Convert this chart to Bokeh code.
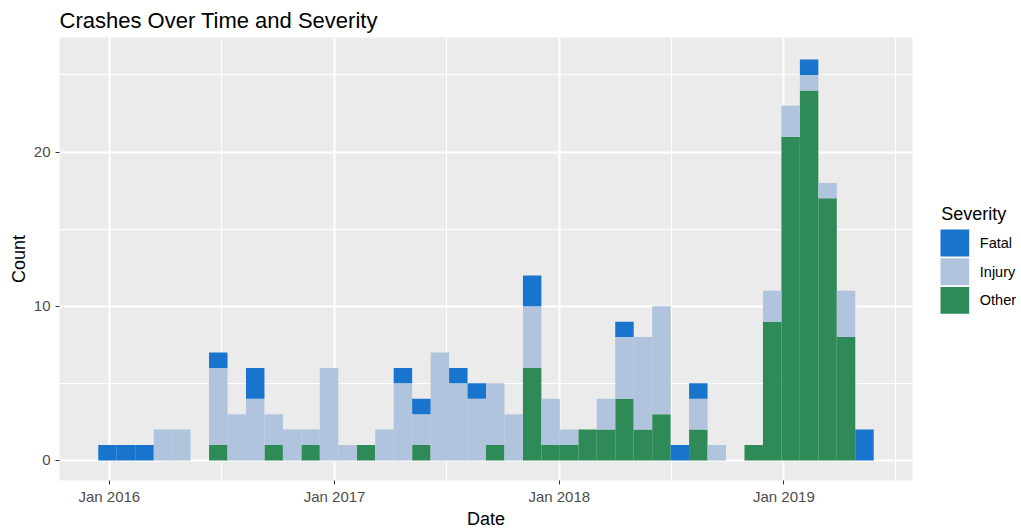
import pandas as pd
from bokeh.plotting import figure
from bokeh.models import Range1d, FixedTicker, DatetimeTickFormatter, ColumnDataSource
from bokeh.layouts import row
from bokeh.embed import file_html
from bokeh.resources import INLINE
from bokeh.core.properties import value

# ---------------- data ----------------
title_text = "Crashes Over Time and Severity"
severity_stack = ["Other", "Injury", "Fatal"]      # bottom -> top
legend_order = ["Fatal", "Injury", "Other"]
colors = {"Fatal": "#1874CD", "Injury": "#B0C4DE", "Other": "#2E8B57"}
first_bin_start = "2015-12-14"
bin_days = 30
other = [0, 0, 0, 0, 0, 0, 1, 0, 0, 1, 0, 1, 0, 0, 1, 0, 0, 1, 0, 0, 0,
         1, 0, 6, 1, 1, 2, 2, 4, 2, 3, 0, 2, 0, 0, 1, 9, 21, 24, 17, 8, 0]
injury = [0, 0, 0, 2, 2, 0, 5, 3, 4, 2, 2, 1, 6, 1, 0, 2, 5, 2, 7, 5, 4,
          4, 3, 4, 3, 1, 0, 2, 4, 6, 7, 0, 2, 1, 0, 0, 2, 2, 1, 1, 3, 0]
fatal = [1, 1, 1, 0, 0, 0, 1, 0, 2, 0, 0, 0, 0, 0, 0, 0, 1, 1, 0, 1, 1,
         0, 0, 2, 0, 0, 0, 0, 1, 0, 0, 1, 1, 0, 0, 0, 0, 0, 1, 0, 0, 2]
x_tick_dates = ["2016-01-01", "2017-01-01", "2018-01-01", "2019-01-01"]
x_minor_dates = ["2016-07-02", "2017-07-02", "2018-07-02", "2019-07-02"]
y_ticks = [0, 10, 20]
y_minor = [5, 15, 25]

# ---------------- derived ----------------
DAY = 86400000.0
n = len(other)
start = pd.Timestamp(first_bin_start)
centers = [(start + pd.Timedelta(days=bin_days * i + bin_days / 2)).value / 1e6 for i in range(n)]
src = ColumnDataSource(dict(x=centers, Other=other, Injury=injury, Fatal=fatal))

x_lo = start.value / 1e6
x_hi = x_lo + n * bin_days * DAY
span = x_hi - x_lo
totals = [a + b + c for a, b, c in zip(other, injury, fatal)]
ymax = max(totals)

FONT = "Liberation Sans"
H = 520
FRAME_TOP, FRAME_H = 37, 443

p = figure(x_axis_type="datetime", frame_width=853, frame_height=FRAME_H,
           x_range=Range1d(x_lo - 0.05 * span, x_hi + 0.05 * span),
           y_range=Range1d(-0.05 * ymax, ymax * 1.055),
           output_backend="svg", toolbar_location=None,
           min_border_left=59, min_border_right=8, min_border_top=29, min_border_bottom=40,
           background_fill_color="#EBEBEB", border_fill_color="white",
           outline_line_color=None)

p.vbar_stack(severity_stack, x="x", width=bin_days * DAY, source=src,
             fill_color=[colors[s] for s in severity_stack], line_color=None)

p.title.text = title_text
p.title.text_font = FONT
p.title.text_font_size = "22px"
p.title.text_font_style = "normal"
p.title.text_color = "black"
p.title.align = "left"
p.title.standoff = 10

xt = [pd.Timestamp(d).value / 1e6 for d in x_tick_dates]
xm = [pd.Timestamp(d).value / 1e6 for d in x_minor_dates]
p.xaxis.ticker = FixedTicker(ticks=xt, minor_ticks=xm)
p.xaxis.formatter = DatetimeTickFormatter(days="%b %Y", months="%b %Y", years="%b %Y")
p.yaxis.ticker = FixedTicker(ticks=y_ticks, minor_ticks=y_minor)

for ax in (p.xaxis, p.yaxis):
    ax.axis_line_color = None
    ax.major_tick_line_color = "#333333"
    ax.major_tick_line_width = 1
    ax.major_tick_out = 4
    ax.major_tick_in = 0
    ax.minor_tick_line_color = None
    ax.major_label_text_font = FONT
    ax.major_label_text_font_size = "15px"
    ax.major_label_text_color = "#4D4D4D"
    ax.axis_label_text_font = FONT
    ax.axis_label_text_font_size = "18px"
    ax.axis_label_text_font_style = "normal"
    ax.axis_label_text_color = "black"
p.xaxis.axis_label = "Date"
p.yaxis.axis_label = "Count"
p.xaxis.major_label_standoff = 3
p.yaxis.major_label_standoff = 5
p.xaxis.axis_label_standoff = 1
p.yaxis.axis_label_standoff = 2

for g in (p.xgrid, p.ygrid):
    g.grid_line_color = "white"
    g.grid_line_width = 2
    g.minor_grid_line_color = "white"
    g.minor_grid_line_width = 1

# ---------------- legend (separate panel; frame aligned with main frame) ----------------
LW = 98
leg = figure(width=LW, height=H, x_range=Range1d(0, LW),
             y_range=Range1d(FRAME_TOP + FRAME_H, FRAME_TOP),
             output_backend="svg", toolbar_location=None,
             x_axis_location=None, y_axis_location=None,
             min_border=0, outline_line_color=None, background_fill_color="white",
             border_fill_color="white")
leg.xgrid.visible = False
leg.ygrid.visible = False

key_left, key_w, key_h, pitch, top0 = 20.0, 28.7, 27.6, 29.4, 234.0
tops = [top0 + i * pitch for i in range(len(legend_order))]
leg.quad(left=[key_left] * len(tops), right=[key_left + key_w] * len(tops),
         top=tops, bottom=[t + key_h for t in tops],
         fill_color=[colors[s] for s in legend_order], line_color=None)
leg.text(x=[key_left + key_w + 10.6] * len(tops), y=[t + key_h / 2 for t in tops],
         text=legend_order, text_font=value(FONT), text_font_size="14.5px",
         text_baseline="middle", text_align="left", text_color="black")
leg.text(x=[key_left + 0.7], y=[218.0], text=["Severity"], text_font=value(FONT),
         text_font_size="18px", text_baseline="alphabetic", text_align="left",
         text_color="black")

layout = row(p, leg)
open("out.html", "w").write(file_html(layout, INLINE))
